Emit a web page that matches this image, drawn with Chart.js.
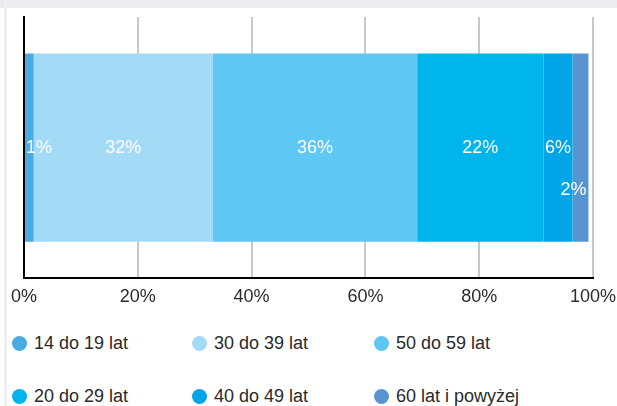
<!DOCTYPE html>
<html lang="pl">
<head>
<meta charset="utf-8">
<title>Wiek</title>
<script src="https://cdn.jsdelivr.net/npm/chart.js@4/dist/chart.umd.min.js"></script>
<style>
  html, body { margin: 0; padding: 0; background: #fff; }
  body { width: 617px; height: 406px; position: relative; overflow: hidden; font-family: 'Liberation Sans', Arial, sans-serif; }
  .top-band { position: absolute; left: 0; top: 0; width: 617px; height: 8px; background: #ececee; }
  .left-band { position: absolute; left: 4px; top: 0; width: 3px; height: 406px; background: #efeff0; }
  .chart-box { position: absolute; left: 0; top: 0; width: 617px; height: 320px; }
  .legend { position: absolute; left: 12px; top: 333px; display: grid; grid-template-columns: 180px 182px auto; row-gap: 33px; }
  .legend__item { display: flex; align-items: center; height: 20px; font-size: 18px; color: #2a2a2a; white-space: nowrap; }
  .legend__dot { width: 15px; height: 15px; border-radius: 50%; margin-right: 7px; flex: none; }
</style>
</head>
<body>
<div class="top-band"></div>
<div class="left-band"></div>
<div class="chart-box"><canvas id="chart" width="617" height="320"></canvas></div>
<div class="legend" id="legend"></div>
<script>
// grupy wiekowe w kolejności segmentów słupka
const ageGroups = ['14 do 19 lat', '30 do 39 lat', '50 do 59 lat', '20 do 29 lat', '40 do 49 lat', '60 lat i powyżej'];
const shares = [1.7, 31.5, 35.9, 22.2, 5.1, 2.8];
const shareLabels = ['1%', '32%', '36%', '22%', '6%', '2%'];
const groupColors = ['#48abe2', '#a3dbf6', '#5ec7f3', '#00b5ec', '#00a5e9', '#5894d0'];
const axisTicks = [0, 20, 40, 60, 80, 100];

const FONT = "'Liberation Sans', Arial, sans-serif";

const datasets = ageGroups.map((name, i) => ({
  label: name,
  data: [shares[i]],
  backgroundColor: groupColors[i],
  borderWidth: 0,
}));

// napisy procentowe na segmentach
const segmentLabels = {
  id: 'segmentLabels',
  afterDatasetsDraw(chart) {
    const ctx = chart.ctx;
    ctx.save();
    ctx.font = `18px ${FONT}`;
    ctx.fillStyle = '#ffffff';
    ctx.textBaseline = 'middle';
    const last = chart.data.datasets.length - 1;
    chart.data.datasets.forEach((ds, i) => {
      const bar = chart.getDatasetMeta(i).data[0];
      const text = shareLabels[i];
      const w = ctx.measureText(text).width;
      const left = Math.min(bar.base, bar.x);
      const right = Math.max(bar.base, bar.x);
      let y = bar.y;
      if (right - left >= w + 2) {
        ctx.textAlign = 'center';
        ctx.fillText(text, (left + right) / 2, y);
      } else if (i === last) {
        ctx.textAlign = 'right';
        ctx.fillText(text, right - 2, y + bar.height * 0.225);
      } else {
        ctx.textAlign = 'left';
        ctx.fillText(text, left + 1, y);
      }
    });
    ctx.restore();
  },
};

const chart = new Chart(document.getElementById('chart'), {
  type: 'bar',
  data: { labels: [''], datasets: datasets },
  options: {
    indexAxis: 'y',
    responsive: false,
    animation: false,
    layout: { padding: { left: 24, right: 24, top: 17, bottom: 4 } },
    plugins: { legend: { display: false }, tooltip: { enabled: false } },
    scales: {
      x: {
        stacked: true,
        min: 0,
        max: 100,
        afterBuildTicks: (scale) => { scale.ticks = axisTicks.map((v) => ({ value: v })); },
        afterFit: (scale) => { scale.paddingLeft = 0; scale.paddingRight = 0; },
        ticks: {
          padding: 8,
          color: '#2b2b2b',
          font: { family: FONT, size: 18 },
          callback: (v) => v + '%',
        },
        grid: { color: '#c9c9cc', lineWidth: 2, drawTicks: false },
        border: { display: true, color: '#000', width: 2 },
      },
      y: {
        stacked: true,
        ticks: { display: false },
        grid: { display: false, drawTicks: false },
        border: { display: true, color: '#000', width: 2 },
      },
    },
  },
  plugins: [segmentLabels],
});

// legenda w trzech kolumnach
const legend = document.getElementById('legend');
chart.data.datasets.forEach((ds) => {
  const item = document.createElement('div');
  item.className = 'legend__item';
  const dot = document.createElement('span');
  dot.className = 'legend__dot';
  dot.style.background = ds.backgroundColor;
  const label = document.createElement('span');
  label.textContent = ds.label;
  item.append(dot, label);
  legend.append(item);
});
</script>
</body>
</html>
